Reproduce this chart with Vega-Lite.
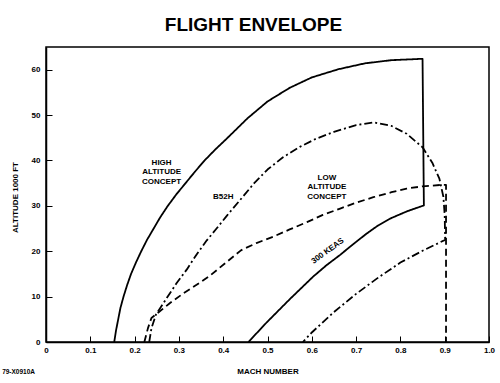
{
  "$schema": "https://vega.github.io/schema/vega-lite/v6.json",
  "width": 443,
  "height": 295,
  "autosize": "none",
  "padding": {"left": 46, "right": 11, "top": 47, "bottom": 41},
  "background": "white",
  "title": {
    "text": "FLIGHT ENVELOPE",
    "font": "Liberation Sans",
    "fontSize": 19,
    "fontWeight": "bold",
    "color": "black",
    "anchor": "middle",
    "frame": "group",
    "baseline": "alphabetic",
    "offset": -3,
    "dx": -14
  },
  "datasets": {
    "curves": [
      {"series": "solid", "ord": 1, "mach": 0.154, "alt": 0},
      {"series": "solid", "ord": 2, "mach": 0.158, "alt": 2.5},
      {"series": "solid", "ord": 3, "mach": 0.163, "alt": 5},
      {"series": "solid", "ord": 4, "mach": 0.168, "alt": 7.5},
      {"series": "solid", "ord": 5, "mach": 0.175, "alt": 10},
      {"series": "solid", "ord": 6, "mach": 0.183, "alt": 12.5},
      {"series": "solid", "ord": 7, "mach": 0.192, "alt": 15},
      {"series": "solid", "ord": 8, "mach": 0.203, "alt": 17.5},
      {"series": "solid", "ord": 9, "mach": 0.215, "alt": 20},
      {"series": "solid", "ord": 10, "mach": 0.228, "alt": 22.5},
      {"series": "solid", "ord": 11, "mach": 0.243, "alt": 25},
      {"series": "solid", "ord": 12, "mach": 0.258, "alt": 27.5},
      {"series": "solid", "ord": 13, "mach": 0.275, "alt": 30},
      {"series": "solid", "ord": 14, "mach": 0.294, "alt": 32.5},
      {"series": "solid", "ord": 15, "mach": 0.315, "alt": 35},
      {"series": "solid", "ord": 16, "mach": 0.336, "alt": 37.5},
      {"series": "solid", "ord": 17, "mach": 0.358, "alt": 40},
      {"series": "solid", "ord": 18, "mach": 0.383, "alt": 42.5},
      {"series": "solid", "ord": 19, "mach": 0.41, "alt": 45},
      {"series": "solid", "ord": 20, "mach": 0.455, "alt": 49.3},
      {"series": "solid", "ord": 21, "mach": 0.5, "alt": 53},
      {"series": "solid", "ord": 22, "mach": 0.55, "alt": 56},
      {"series": "solid", "ord": 23, "mach": 0.6, "alt": 58.3},
      {"series": "solid", "ord": 24, "mach": 0.66, "alt": 60.1},
      {"series": "solid", "ord": 25, "mach": 0.72, "alt": 61.4},
      {"series": "solid", "ord": 26, "mach": 0.78, "alt": 62.1},
      {"series": "solid", "ord": 27, "mach": 0.85, "alt": 62.4},
      {"series": "solid", "ord": 28, "mach": 0.853, "alt": 30.1},
      {"series": "solid", "ord": 29, "mach": 0.815, "alt": 28.8},
      {"series": "solid", "ord": 30, "mach": 0.777, "alt": 27.2},
      {"series": "solid", "ord": 31, "mach": 0.75, "alt": 25.7},
      {"series": "solid", "ord": 32, "mach": 0.724, "alt": 23.9},
      {"series": "solid", "ord": 33, "mach": 0.694, "alt": 21.6},
      {"series": "solid", "ord": 34, "mach": 0.664, "alt": 19.2},
      {"series": "solid", "ord": 35, "mach": 0.633, "alt": 16.9},
      {"series": "solid", "ord": 36, "mach": 0.603, "alt": 14.4},
      {"series": "solid", "ord": 37, "mach": 0.551, "alt": 9.5},
      {"series": "solid", "ord": 38, "mach": 0.498, "alt": 4.3},
      {"series": "solid", "ord": 39, "mach": 0.457, "alt": 0},
      {"series": "b52h", "ord": 1, "mach": 0.233, "alt": 0},
      {"series": "b52h", "ord": 2, "mach": 0.238, "alt": 3},
      {"series": "b52h", "ord": 3, "mach": 0.248, "alt": 6},
      {"series": "b52h", "ord": 4, "mach": 0.268, "alt": 9},
      {"series": "b52h", "ord": 5, "mach": 0.295, "alt": 13},
      {"series": "b52h", "ord": 6, "mach": 0.318, "alt": 16},
      {"series": "b52h", "ord": 7, "mach": 0.34, "alt": 19.3},
      {"series": "b52h", "ord": 8, "mach": 0.363, "alt": 22.4},
      {"series": "b52h", "ord": 9, "mach": 0.385, "alt": 25},
      {"series": "b52h", "ord": 10, "mach": 0.408, "alt": 27.8},
      {"series": "b52h", "ord": 11, "mach": 0.44, "alt": 31.5},
      {"series": "b52h", "ord": 12, "mach": 0.47, "alt": 35},
      {"series": "b52h", "ord": 13, "mach": 0.5, "alt": 38},
      {"series": "b52h", "ord": 14, "mach": 0.535, "alt": 40.7},
      {"series": "b52h", "ord": 15, "mach": 0.573, "alt": 43},
      {"series": "b52h", "ord": 16, "mach": 0.61, "alt": 44.8},
      {"series": "b52h", "ord": 17, "mach": 0.65, "alt": 46.3},
      {"series": "b52h", "ord": 18, "mach": 0.7, "alt": 47.8},
      {"series": "b52h", "ord": 19, "mach": 0.74, "alt": 48.4},
      {"series": "b52h", "ord": 20, "mach": 0.78, "alt": 47.6},
      {"series": "b52h", "ord": 21, "mach": 0.814, "alt": 45.9},
      {"series": "b52h", "ord": 22, "mach": 0.85, "alt": 42.9},
      {"series": "b52h", "ord": 23, "mach": 0.872, "alt": 39.5},
      {"series": "b52h", "ord": 24, "mach": 0.888, "alt": 36},
      {"series": "b52h", "ord": 25, "mach": 0.897, "alt": 32},
      {"series": "b52h", "ord": 26, "mach": 0.9, "alt": 28},
      {"series": "b52h", "ord": 27, "mach": 0.901, "alt": 22.5},
      {"series": "b52h", "ord": 28, "mach": 0.85, "alt": 20.1},
      {"series": "b52h", "ord": 29, "mach": 0.8, "alt": 17.5},
      {"series": "b52h", "ord": 30, "mach": 0.75, "alt": 14.2},
      {"series": "b52h", "ord": 31, "mach": 0.7, "alt": 10.6},
      {"series": "b52h", "ord": 32, "mach": 0.65, "alt": 6.6},
      {"series": "b52h", "ord": 33, "mach": 0.6, "alt": 2.1},
      {"series": "b52h", "ord": 34, "mach": 0.58, "alt": 0},
      {"series": "low", "ord": 1, "mach": 0.222, "alt": 0},
      {"series": "low", "ord": 2, "mach": 0.23, "alt": 3},
      {"series": "low", "ord": 3, "mach": 0.238, "alt": 5.3},
      {"series": "low", "ord": 4, "mach": 0.255, "alt": 6.6},
      {"series": "low", "ord": 5, "mach": 0.28, "alt": 8.6},
      {"series": "low", "ord": 6, "mach": 0.31, "alt": 10.7},
      {"series": "low", "ord": 7, "mach": 0.34, "alt": 12.6},
      {"series": "low", "ord": 8, "mach": 0.37, "alt": 14.6},
      {"series": "low", "ord": 9, "mach": 0.405, "alt": 17.4},
      {"series": "low", "ord": 10, "mach": 0.44, "alt": 20.2},
      {"series": "low", "ord": 11, "mach": 0.475, "alt": 21.8},
      {"series": "low", "ord": 12, "mach": 0.513, "alt": 23.2},
      {"series": "low", "ord": 13, "mach": 0.55, "alt": 24.8},
      {"series": "low", "ord": 14, "mach": 0.589, "alt": 26.4},
      {"series": "low", "ord": 15, "mach": 0.625, "alt": 28},
      {"series": "low", "ord": 16, "mach": 0.664, "alt": 29.4},
      {"series": "low", "ord": 17, "mach": 0.7, "alt": 30.7},
      {"series": "low", "ord": 18, "mach": 0.739, "alt": 31.9},
      {"series": "low", "ord": 19, "mach": 0.78, "alt": 33},
      {"series": "low", "ord": 20, "mach": 0.814, "alt": 33.8},
      {"series": "low", "ord": 21, "mach": 0.85, "alt": 34.3},
      {"series": "low", "ord": 22, "mach": 0.89, "alt": 34.6},
      {"series": "low", "ord": 23, "mach": 0.903, "alt": 34.6},
      {"series": "low", "ord": 24, "mach": 0.903, "alt": 0}
    ],
    "labels": [
      {"label": "HIGH\nALTITUDE\nCONCEPT", "mach": 0.261, "alt": 39.5, "angle": 0},
      {"label": "B52H", "mach": 0.4, "alt": 31.9, "angle": 0},
      {"label": "LOW\nALTITUDE\nCONCEPT", "mach": 0.634, "alt": 36.2, "angle": 0},
      {"label": "300 KEAS", "mach": 0.636, "alt": 20.0, "angle": -36}
    ],
    "note": [
      {"label": "79-X0910A", "mach": -0.099, "alt": -6.54}
    ]
  },
  "layer": [
    {
      "data": {"name": "curves"},
      "mark": {"type": "line", "color": "black", "strokeWidth": 1.8, "strokeCap": "butt", "strokeJoin": "round"},
      "encoding": {
        "x": {
          "field": "mach", "type": "quantitative",
          "scale": {"domain": [0, 1], "nice": false, "zero": false},
          "axis": {
            "title": "MACH NUMBER",
            "values": [0, 0.1, 0.2, 0.3, 0.4, 0.5, 0.6, 0.7, 0.8, 0.9, 1.0],
            "labelExpr": "datum.value == 0 ? '0' : format(datum.value, '.1f')",
            "titleY": 25,
            "titleBaseline": "top",
            "labelPadding": 10
          }
        },
        "y": {
          "field": "alt", "type": "quantitative",
          "scale": {"domain": [0, 65], "nice": false},
          "axis": {
            "title": "ALTITUDE 1000 FT",
            "values": [0, 10, 20, 30, 40, 50, 60],
            "titleX": -27,
            "titleY": 150,
            "titleAngle": -90,
            "titleBaseline": "bottom",
            "titleAlign": "center",
            "labelPadding": 12
          }
        },
        "detail": {"field": "series"},
        "order": {"field": "ord", "type": "quantitative"},
        "strokeDash": {
          "field": "series", "type": "nominal",
          "scale": {"domain": ["solid", "low", "b52h"], "range": [[1, 0], [7, 4], [8, 3, 2, 3]]},
          "legend": null
        }
      }
    },
    {
      "data": {"name": "labels"},
      "mark": {"type": "text", "font": "Liberation Sans", "fontSize": 8, "fontWeight": "bold", "color": "black", "lineBreak": "\n", "lineHeight": 9.6, "align": "center", "baseline": "middle"},
      "encoding": {
        "x": {"field": "mach", "type": "quantitative"},
        "y": {"field": "alt", "type": "quantitative"},
        "text": {"field": "label"},
        "angle": {"field": "angle", "type": "quantitative", "scale": null}
      }
    },
    {
      "data": {"name": "note"},
      "mark": {"type": "text", "font": "Liberation Sans", "fontSize": 6.5, "fontWeight": "bold", "color": "black", "align": "left", "baseline": "middle"},
      "encoding": {
        "x": {"field": "mach", "type": "quantitative"},
        "y": {"field": "alt", "type": "quantitative"},
        "text": {"field": "label"}
      }
    }
  ],
  "config": {
    "view": {"stroke": "black", "strokeWidth": 1.5},
    "axis": {
      "grid": false,
      "domainColor": "black",
      "domainWidth": 1.5,
      "tickColor": "black",
      "tickWidth": 1,
      "tickSize": -6,
      "labelFont": "Liberation Sans",
      "labelFontSize": 8,
      "labelFontWeight": "bold",
      "labelColor": "black",
      "titleFont": "Liberation Sans",
      "titleFontSize": 8,
      "titleFontWeight": "bold",
      "titleColor": "black"
    },
    "axisX": {"labelFlush": false}
  }
}
